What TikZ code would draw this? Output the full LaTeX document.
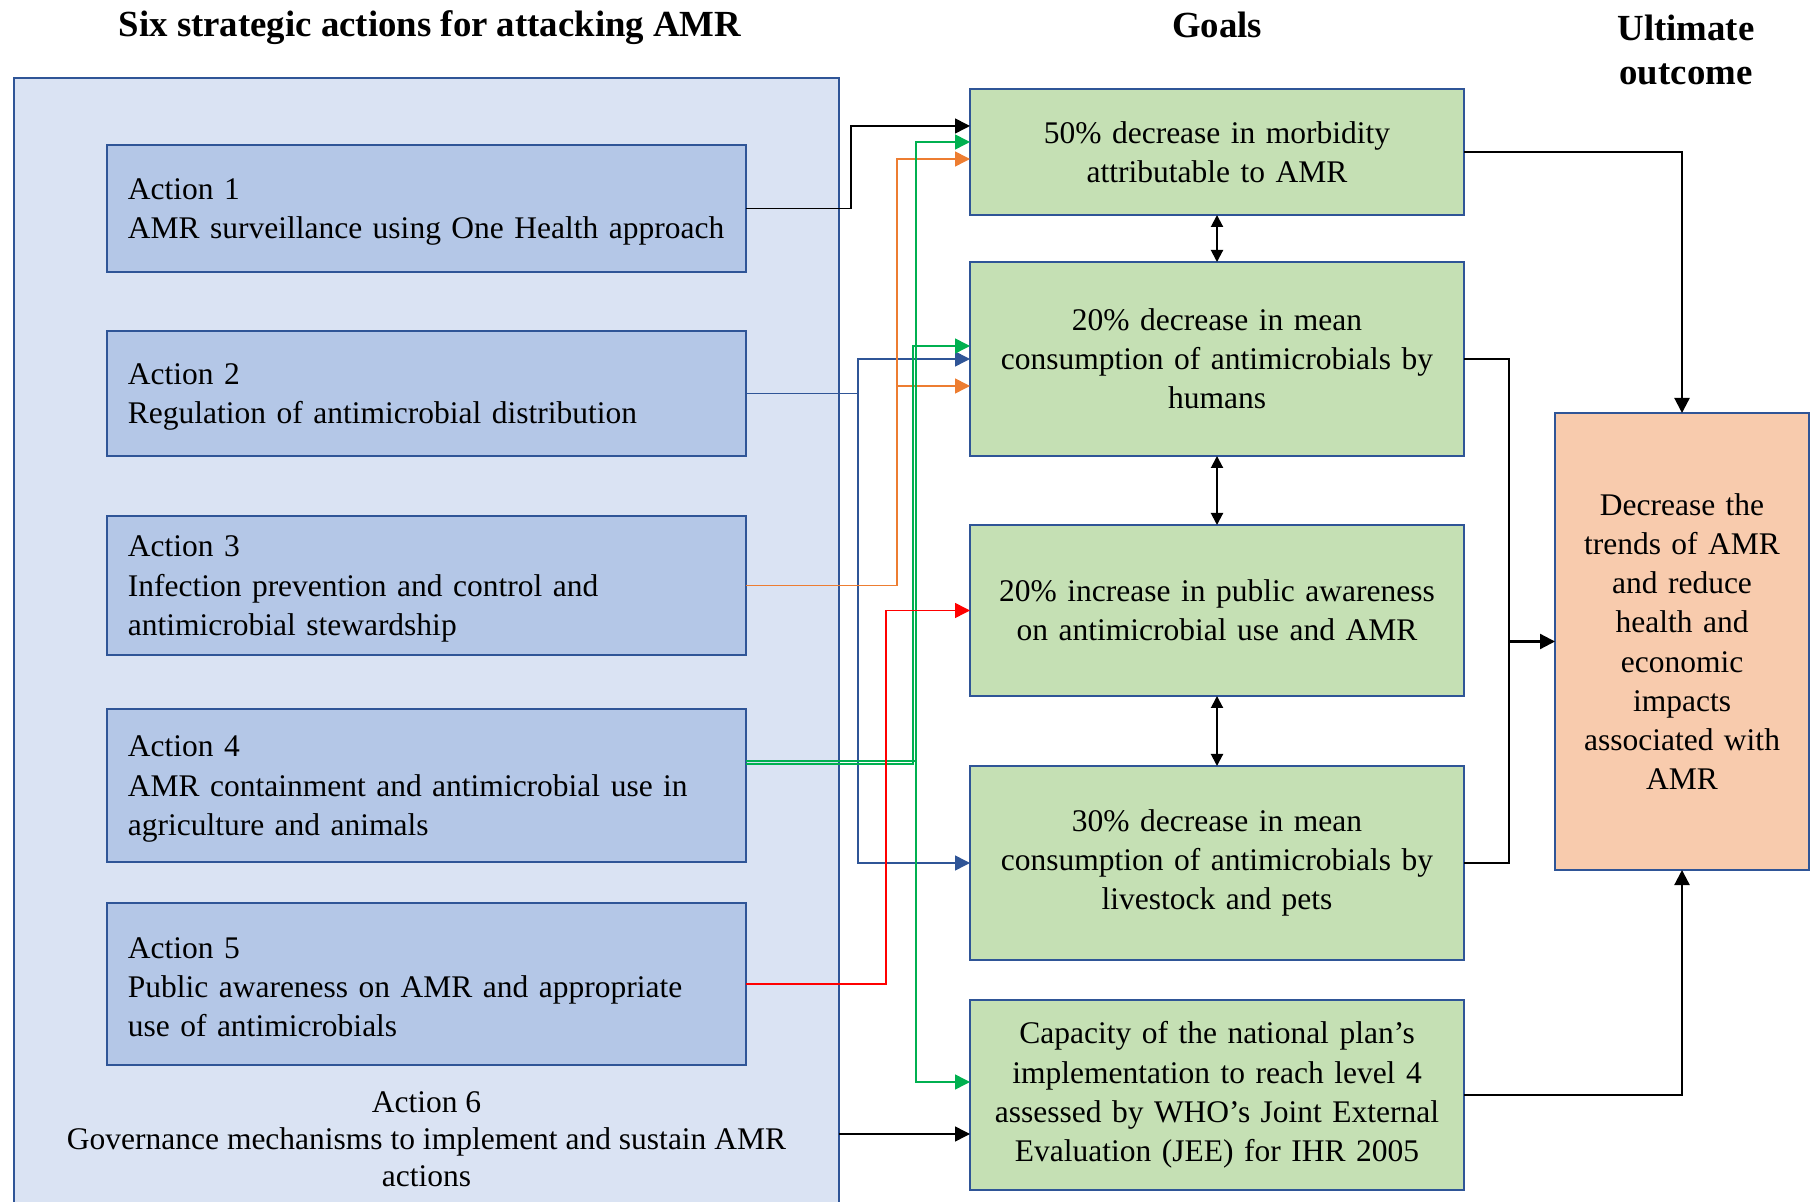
\documentclass[tikz,border=0pt]{standalone}
\usepackage{fontspec}
\setmainfont{Liberation Serif}
\usetikzlibrary{arrows.meta,calc}
\definecolor{amrpanel}{HTML}{DAE3F3}
\definecolor{amrbox}{HTML}{B4C7E7}
\definecolor{amrgoal}{HTML}{C5E0B4}
\definecolor{amrout}{HTML}{F8CBAD}
\definecolor{amredge}{HTML}{2F5597}
\definecolor{amrgreen}{HTML}{00B050}
\definecolor{amrorange}{HTML}{ED7D31}
\definecolor{amrred}{HTML}{FF0000}
\begin{document}
\begin{tikzpicture}[x=0.5pt,y=-0.5pt,
  hdr/.style={font=\fontsize{18.4}{22}\selectfont\bfseries, align=center, inner sep=0pt},
  actbox/.style={draw=amredge, fill=amrbox, line width=1.15pt, inner ysep=0pt, inner xsep=10.4pt, outer sep=0pt, text width=298.7pt, align=left, minimum width=319.5pt, font=\fontsize{15.75}{19.6}\selectfont, execute at begin node={\rule{0pt}{13.9pt}}},
  goalbox/.style={draw=amredge, fill=amrgoal, line width=1.15pt, inner ysep=0pt, inner xsep=3.5pt, outer sep=0pt, text width=240pt, align=center, minimum width=247pt, font=\fontsize{15.75}{19.6}\selectfont},
  outbox/.style={draw=amredge, fill=amrout, line width=1.15pt, inner ysep=0pt, inner xsep=3.5pt, outer sep=0pt, text width=120pt, align=center, minimum width=127pt, font=\fontsize{15.75}{19.6}\selectfont},
  link/.style={line width=0.75pt, -{Triangle[length=7.5pt,width=7.5pt]}},
  bigarrow/.style={line width=1.1pt, -{Triangle[length=7.5pt,width=7.5pt]}},
  dblarrow/.style={line width=1pt, {Triangle[length=6pt,width=6pt]}-{Triangle[length=6pt,width=6pt]}},
]
\useasboundingbox (0,0) rectangle (1810,1202);
\clip (0,0) rectangle (1810,1202);
\node[hdr] (hleft) at (430,28) {Six strategic actions for attacking AMR};
\node[hdr] (hgoal) at (1217,25) {Goals};
\node[hdr] (hout) at (1686,50) {Ultimate\\outcome};
\node[draw=amredge, fill=amrpanel, line width=1.2pt, inner sep=0pt, outer sep=0pt, minimum width=412.5pt, minimum height=576pt] (panel) at (426.5,654) {};
\node[actbox, minimum height=63.5pt] (a1) at (426.5,208.5) {Action 1\\AMR surveillance using One Health approach};
\node[actbox, minimum height=62.5pt] (a2) at (426.5,393.5) {Action 2\\Regulation of antimicrobial distribution};
\node[actbox, minimum height=69.5pt] (a3) at (426.5,585.5) {Action 3\\Infection prevention and control and\\antimicrobial stewardship};
\node[actbox, minimum height=76.5pt] (a4) at (426.5,785.5) {Action 4\\AMR containment and antimicrobial use in\\agriculture and animals};
\node[actbox, minimum height=81pt] (a5) at (426.5,984) {Action 5\\Public awareness on AMR and appropriate\\use of antimicrobials};
\node[font=\fontsize{15.75}{18.5}\selectfont, align=center, inner sep=0pt] (a6) at (426.5,1139) {Action 6\\Governance mechanisms to implement and sustain AMR\\actions};
\node[goalbox, minimum height=63pt] (g1) at (1217,152) {50\% decrease in morbidity\\attributable to AMR};
\node[goalbox, minimum height=97pt] (g2) at (1217,359) {20\% decrease in mean\\consumption of antimicrobials by\\humans};
\node[goalbox, minimum height=85.5pt] (g3) at (1217,610.5) {20\% increase in public awareness\\on antimicrobial use and AMR};
\node[goalbox, minimum height=97pt] (g4) at (1217,863) {30\% decrease in mean\\consumption of antimicrobials by\\livestock and pets};
\node[goalbox, minimum height=95pt] (g5) at (1217,1095) {Capacity of the national plan’s\\implementation to reach level 4\\assessed by WHO’s Joint External\\Evaluation (JEE) for IHR 2005};
\node[outbox, minimum height=228.5pt] (out) at (1682,641.5) {Decrease the\\trends of AMR\\and reduce\\health and\\economic\\impacts\\associated with\\AMR};
\draw[link] (a1.east) -| (851,126) -- ($(g1.west)+(0,-26)$);
\draw[link, amredge] (a2.east) -| (858,359) -- (g2.west);
\draw[link, amredge] (858,393) |- (g4.west);
\draw[link, amrorange] (a3.east) -| (897,159) -- ($(g1.west)+(0,7)$);
\draw[link, amrorange] (897,585.5) |- ($(g2.west)+(0,27)$);
\draw[link, amrgreen] ($(a4.east)+(0,-24.5)$) -| (916,142) -- ($(g1.west)+(0,-10)$);
\draw[link, amrgreen] ($(a4.east)+(0,-21.5)$) -| (913,346) -- ($(g2.west)+(0,-13)$);
\draw[link, amrgreen] (916,761) |- ($(g5.west)+(0,-13)$);
\draw[link, amrred] (a5.east) -| (886,610.5) -- (g3.west);
\draw[link] ($(panel.east |- a6)+(0,-5)$) -- ($(g5.west |- a6)+(0,-5)$);
\draw[dblarrow] (g1.south) -- (g2.north);
\draw[dblarrow] (g2.south) -- (g3.north);
\draw[dblarrow] (g3.south) -- (g4.north);
\draw[bigarrow] (g1.east) -| (out.north);
\draw[bigarrow] (g5.east) -| (out.south);
\draw[line width=1.1pt] (g2.east) -| (1509,863) -- (g4.east);
\draw[bigarrow] ($(out.west)+(-45,0)$) -- (out.west);
\end{tikzpicture}
\end{document}
